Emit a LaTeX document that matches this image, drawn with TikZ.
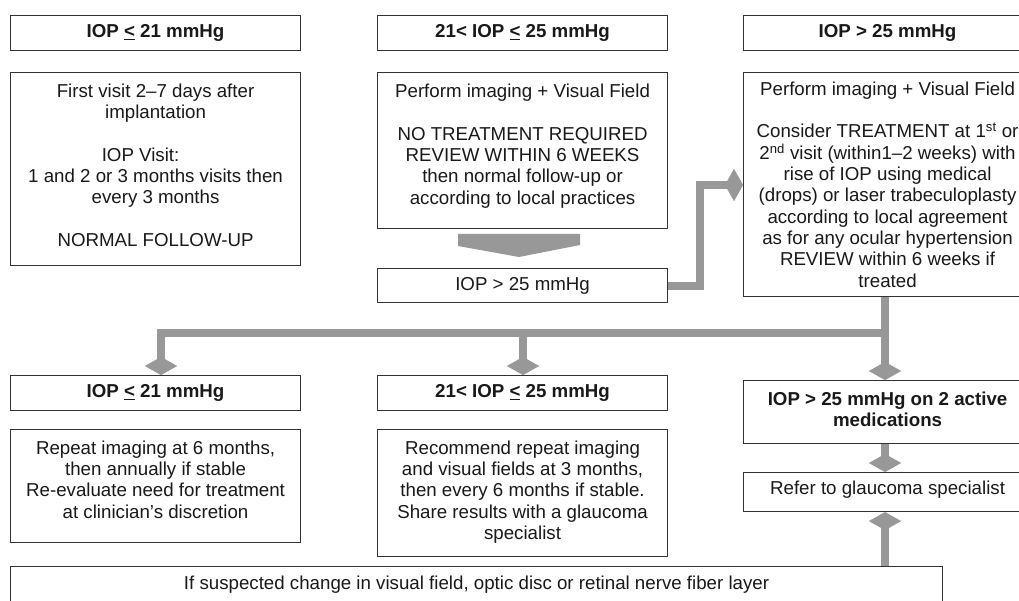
\documentclass[tikz,border=0pt]{standalone}
\usepackage{fontspec}
\setmainfont{Liberation Sans}
\usetikzlibrary{arrows.meta}
\definecolor{arrowgray}{RGB}{152,152,152}
\definecolor{boxline}{RGB}{50,50,50}
\definecolor{txt}{RGB}{25,25,25}
\newcommand{\lowpad}[1]{\rule[-#1]{0pt}{0pt}}
\begin{document}
\begin{tikzpicture}[x=1pt,y=-1pt,
  box/.style={draw=boxline, line width=1.1pt, text=txt, align=center, inner xsep=0pt, inner ysep=0pt, anchor=north west, font=\fontsize{18.7}{21.3}\selectfont},
  hdr/.style={box, font=\fontsize{18.7}{21.3}\selectfont\bfseries},
  flow/.style={draw=arrowgray, line width=8pt, line join=miter, -{Kite[length=18pt,width=32pt,inset=9pt,line width=0.01pt]}},
]
\useasboundingbox (0,0) rectangle (1019,601);
\clip (0,0) rectangle (1019,601);
\fill[white] (0,0) rectangle (1019,601);

% top row
\node[hdr, minimum width=290pt, minimum height=35pt] (a1) at (10,15) {IOP \underline{<} 21 mmHg};
\node[box, minimum width=290pt, minimum height=193pt] (a2) at (10,72) {First visit 2–7 days after\\implantation\\[21.3pt]IOP Visit:\rule{30pt}{0pt}\\1 and 2 or 3 months visits then\\every 3 months\\[21.3pt]NORMAL FOLLOW-UP\lowpad{8pt}};
\node[hdr, minimum width=290pt, minimum height=35pt] (b1) at (377,15) {21< IOP \underline{<} 25 mmHg};
\node[box, minimum width=290pt, minimum height=156pt] (b2) at (377,72) {Perform imaging + Visual Field\\[21.3pt]NO TREATMENT REQUIRED\\REVIEW WITHIN 6 WEEKS\\then normal follow-up or\\according to local practices\lowpad{13pt}};
\node[box, minimum width=290pt, minimum height=34pt] (b3) at (377,268) {IOP > 25 mmHg};
\node[hdr, minimum width=288pt, minimum height=35pt] (c1) at (743,15) {IOP > 25 mmHg};
\node[box, minimum width=288pt, minimum height=224pt] (c2) at (743,72) {Perform imaging + Visual Field\\[21.3pt]Consider TREATMENT at 1\textsuperscript{st} or\\2\textsuperscript{nd} visit (within1–2 weeks) with\\rise of IOP using medical\\(drops) or laser trabeculoplasty\\according to local agreement\\as for any ocular hypertension\\REVIEW within 6 weeks if\\treated};

% chevron
\fill[arrowgray] (458,234) -- (580,234) -- (580,245) -- (519,257) -- (458,246) -- cycle;

% bottom row
\node[hdr, minimum width=290pt, minimum height=35pt] (d1) at (10,375) {IOP \underline{<} 21 mmHg};
\node[box, minimum width=290pt, minimum height=113pt] (d2) at (10,429) {Repeat imaging at 6 months,\\then annually if stable\\Re-evaluate need for treatment\\at clinician's discretion\lowpad{13pt}};
\node[hdr, minimum width=290pt, minimum height=35pt] (e1) at (377,375) {21< IOP \underline{<} 25 mmHg};
\node[box, minimum width=290pt, minimum height=127pt] (e2) at (377,429) {Recommend repeat imaging\\and visual fields at 3 months,\\then every 6 months if stable.\\Share results with a glaucoma\\specialist\lowpad{6pt}};
\node[hdr, minimum width=288pt, minimum height=63pt] (f1) at (743,380) {IOP > 25 mmHg on 2 active\\medications\lowpad{6pt}};
\node[box, minimum width=288pt, minimum height=39pt] (f2) at (743,472) {Refer to glaucoma specialist\lowpad{8pt}};
\node[box, minimum width=932pt, minimum height=36pt] (g) at (10,566) {If suspected change in visual field, optic disc or retinal nerve fiber layer};

% connectors
\coordinate (j2) at (700,185);
\coordinate (bl) at (161,333);
\coordinate (bm) at (523,333);
\coordinate (br) at (885,333);
\draw[flow] (b3.east) -| (j2) -- (c2.west |- j2);
\draw[flow] (br) -- (bl) -- (d1.north -| bl);
\draw[flow] (bm) -- (e1.north -| bm);
\draw[flow] (c2.south -| br) -- (f1.north -| br);
\draw[flow] (f1.south -| br) -- (f2.north -| br);
\draw[flow] (g.north -| br) -- (f2.south -| br);
\end{tikzpicture}
\end{document}
